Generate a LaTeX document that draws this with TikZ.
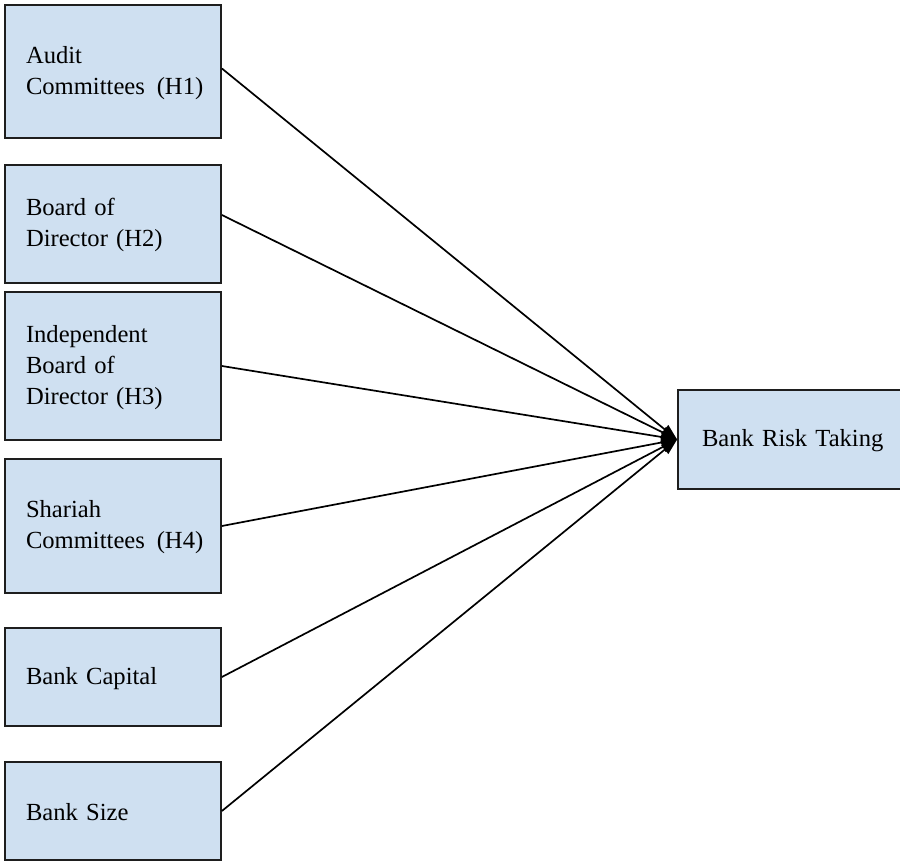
\documentclass[tikz,border=0pt]{standalone}
\usepackage{fontspec}
\setmainfont{Liberation Serif}
\usetikzlibrary{arrows.meta}
\definecolor{boxfill}{HTML}{CFE0F1}
\definecolor{edge}{HTML}{1E1E1E}
\begin{document}
\begin{tikzpicture}[x=1pt,y=-1pt,
  box/.style={draw=edge, line width=1.8pt, fill=boxfill, inner sep=0pt,
    align=left, text width=174pt, minimum width=216pt,
    font=\fontsize{24.6}{31}\selectfont},
  rbox/.style={box, text width=200pt, minimum width=248pt},
  link/.style={draw=black, line width=1.7pt, -{Triangle[length=16pt,width=11pt]}}]
\useasboundingbox (0,0) rectangle (900,861);
\node[box, minimum height=133pt] (b1) at (113,71.5) {\rule{0pt}{20pt}Audit\\\mbox{Committees\hspace{0.15em} (H1)}};
\node[box, minimum height=118pt] (b2) at (113,224) {\rule{0pt}{20pt}Board of\\Director (H2)};
\node[box, minimum height=148pt] (b3) at (113,366) {\rule{0pt}{20pt}Independent\\Board of\\Director (H3)};
\node[box, minimum height=134pt] (b4) at (113,526) {\rule{0pt}{20pt}Shariah\\\mbox{Committees\hspace{0.15em} (H4)}};
\node[box, minimum height=98pt] (b5) at (113,677) {\rule{0pt}{20pt}Bank Capital};
\node[box, minimum height=98pt] (b6) at (113,811) {\rule{0pt}{20pt}Bank Size};
\node[rbox, minimum height=99pt] (r) at (802,439.5) {\rule{0pt}{20pt}Bank Risk Taking};
\draw[link] ([yshift=3pt]b1.east) -- (r.west);
\draw[link] ([yshift=9pt]b2.east) -- (r.west);
\draw[link] (b3.east) -- (r.west);
\draw[link] (b4.east) -- (r.west);
\draw[link] (b5.east) -- (r.west);
\draw[link] (b6.east) -- (r.west);
\end{tikzpicture}
\end{document}
